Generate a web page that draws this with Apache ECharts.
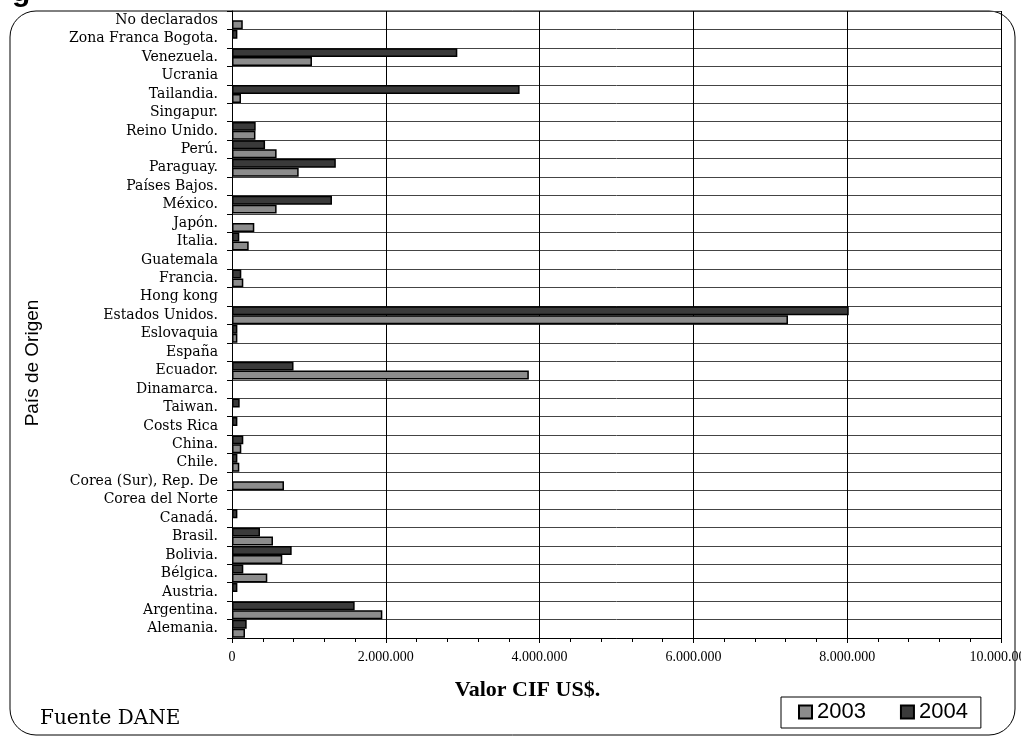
<!DOCTYPE html>
<html>
<head>
<meta charset="utf-8">
<script src="https://cdn.jsdelivr.net/npm/echarts@6/dist/echarts.min.js"></script>
<style>
  html, body { margin: 0; padding: 0; background: #fff; }
  #main { width: 1021px; height: 745px; }
</style>
</head>
<body>
<div id="main"></div>
<script>
var chartDom = document.getElementById('main');
var myChart = echarts.init(chartDom);
var option;

// bottom to top, as in the picture
var paises = ['Alemania.', 'Argentina.', 'Austria.', 'Bélgica.', 'Bolivia.', 'Brasil.', 'Canadá.',
  'Corea del Norte', 'Corea (Sur), Rep. De', 'Chile.', 'China.', 'Costs Rica', 'Taiwan.', 'Dinamarca.',
  'Ecuador.', 'España', 'Eslovaquia', 'Estados Unidos.', 'Hong kong', 'Francia.', 'Guatemala', 'Italia.',
  'Japón.', 'México.', 'Países Bajos.', 'Paraguay.', 'Perú.', 'Reino Unido.', 'Singapur.', 'Tailandia.',
  'Ucrania', 'Venezuela.', 'Zona Franca Bogota.', 'No declarados'];

var valores2003 = [169000, 1955000, 0, 459000, 654000, 533000, 0,
  0, 676000, 95000, 121000, 0, 0, 0,
  3860000, 0, 70000, 7230000, 0, 147000, 0, 217000,
  290000, 580000, 0, 867000, 580000, 305000, 0, 117000,
  0, 1040000, 0, 140000];

var valores2004 = [191000, 1595000, 70000, 147000, 776000, 364000, 70000,
  0, 0, 70000, 147000, 70000, 100000, 0,
  800000, 0, 70000, 8020000, 0, 121000, 0, 95000,
  0, 1300000, 0, 1350000, 430000, 308000, 0, 3740000,
  0, 2930000, 70000, 0];

var anios = ['2003', '2004'];
var colores = ['#8c8c8c', '#3a3a3a'];

function sinCeros(arr) {
  return arr.map(function (v) { return v === 0 ? '-' : v; });
}

function formatoPuntos(v) {
  return String(v).replace(/\B(?=(\d{3})+(?!\d))/g, '.');
}

option = {
  animation: false,
  backgroundColor: '#fff',
  textStyle: { fontFamily: 'Liberation Serif' },
  grid: { left: 232, right: 20, top: 11, bottom: 107, containLabel: false, outerBoundsMode: 'none' },
  legend: {
    data: anios,
    left: 781,
    top: 697,
    padding: [4, 13, 5, 17],
    itemGap: 34,
    itemWidth: 13,
    itemHeight: 13,
    borderColor: '#000',
    borderWidth: 1,
    icon: 'rect',
    textStyle: { fontFamily: 'Liberation Sans', fontSize: 22, color: '#000' }
  },
  xAxis: {
    type: 'value',
    min: 0,
    max: 10000000,
    interval: 2000000,
    name: 'Valor CIF US$.',
    nameLocation: 'middle',
    nameGap: 41,
    nameTextStyle: { fontFamily: 'Liberation Serif', fontWeight: 'bold', fontSize: 22, color: '#000', padding: [0, 178, 0, 0] },
    axisLine: { show: true, lineStyle: { color: '#000' } },
    axisTick: { show: true, length: 5, lineStyle: { color: '#000' } },
    minorTick: { show: true, splitNumber: 5, length: 4, lineStyle: { color: '#000' } },
    axisLabel: {
      formatter: formatoPuntos,
      fontFamily: 'Liberation Serif',
      fontSize: 14,
      color: '#000',
      margin: 12
    },
    splitLine: { show: true, lineStyle: { color: '#000', width: 1 } }
  },
  yAxis: {
    type: 'category',
    data: paises,
    axisLine: { show: true, lineStyle: { color: '#000' } },
    axisTick: { show: true, length: 5, interval: 0, lineStyle: { color: '#000' } },
    axisLabel: {
      interval: 0,
      fontFamily: 'DejaVu Serif',
      fontSize: 14,
      color: '#000',
      margin: 14
    },
    splitLine: { show: true, interval: 0, lineStyle: { color: '#444', width: 1 } }
  },
  series: [
    {
      name: '2004',
      type: 'bar',
      data: sinCeros(valores2004),
      barGap: '0%',
      barCategoryGap: '3%',
      itemStyle: { color: colores[1], borderColor: '#000', borderWidth: 1.5 }
    },
    {
      name: '2003',
      type: 'bar',
      data: sinCeros(valores2003),
      barGap: '0%',
      barCategoryGap: '3%',
      itemStyle: { color: colores[0], borderColor: '#000', borderWidth: 1.5 }
    }
  ],
  graphic: [
    {
      type: 'rect',
      shape: { x: 10, y: 11, width: 1005, height: 724, r: 26 },
      style: { fill: 'none', stroke: '#000', lineWidth: 1 },
      silent: true,
      z: -1
    },
    {
      type: 'text',
      x: 33,
      y: 363,
      rotation: Math.PI / 2,
      style: { text: 'País de Origen', font: '19px "Liberation Sans"', fill: '#000', align: 'center', verticalAlign: 'middle' }
    },
    {
      type: 'text',
      left: 40,
      top: 709,
      style: { text: 'Fuente DANE', font: '20px "DejaVu Serif"', fill: '#000' }
    },
    {
      type: 'text',
      left: 12,
      top: -22,
      style: { text: 'g', font: 'bold 30px "Liberation Sans"', fill: '#000' }
    }
  ]
};

option && myChart.setOption(option);
</script>
</body>
</html>
